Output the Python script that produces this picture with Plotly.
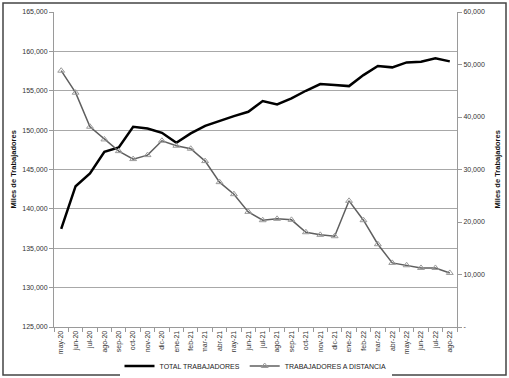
import plotly.graph_objects as go

months = ["may-20","jun-20","jul-20","ago-20","sep-20","oct-20","nov-20","dic-20",
          "ene-21","feb-21","mar-21","abr-21","may-21","jun-21","jul-21","ago-21",
          "sep-21","oct-21","nov-21","dic-21","ene-22","feb-22","mar-22","abr-22",
          "may-22","jun-22","jul-22","ago-22"]
total = [137460, 142880, 144500, 147250, 147800, 150420, 150200, 149660,
         148390, 149580, 150550, 151190, 151780, 152330, 153690, 153260,
         154030, 155000, 155850, 155720, 155590, 156990, 158140, 157970,
         158600, 158690, 159110, 158730]
distancia = [48820, 44630, 38140, 35730, 33500, 31980, 32740, 35470,
             34520, 33950, 31600, 27590, 25300, 21930, 20340, 20600,
             20410, 18050, 17550, 17290, 24030, 20340, 15770, 12210,
             11760, 11250, 11250, 10300]
left_ticks = [125000, 130000, 135000, 140000, 145000, 150000, 155000, 160000, 165000]
right_ticks = [0, 10000, 20000, 30000, 40000, 50000, 60000]
right_labels = ["-", "10,000", "20,000", "30,000", "40,000", "50,000", "60,000"]

FONT = "Liberation Sans"
L, R, T, B = 54, 52, 12, 51
PW, PH = 509 - L - R, 378 - T - B

def px(x):
    return (x - L) / PW

def py(y):
    return (378 - B - y) / PH

fig = go.Figure()
fig.add_trace(go.Scatter(x=months, y=total, name="TOTAL TRABAJADORES", mode="lines",
                         line=dict(color="#000000", width=2.5)))
fig.add_trace(go.Scatter(x=months, y=distancia, name="TRABAJADORES A DISTANCIA",
                         mode="lines+markers", yaxis="y2",
                         line=dict(color="#5f5f5f", width=1.5),
                         marker=dict(symbol="triangle-up-open", size=6, color="#9a9a9a",
                                     line=dict(width=1))))

title_font = dict(family=FONT, size=7.5, color="#111111")
tick_font = dict(family=FONT, size=7, color="#333333")
fig.update_layout(
    width=509, height=378,
    margin=dict(l=L, r=R, t=T, b=B, autoexpand=False),
    paper_bgcolor="white", plot_bgcolor="white",
    font=dict(family=FONT, size=7, color="#333333"),
    showlegend=True,
    legend=dict(orientation="h", x=0.5, xanchor="center", y=py(366), yanchor="middle",
                font=dict(size=7, color="#222222"), itemwidth=30),
    xaxis=dict(type="category", tickangle=-90, showgrid=False, showline=True,
               linecolor="#9a9a9a", ticks="outside", tickson="boundaries",
               ticklen=4, tickcolor="#9a9a9a", tickfont=tick_font,
               range=[-0.5, 27.5], automargin=False),
    yaxis=dict(range=[125000, 165000], tickvals=left_ticks, tickformat=",",
               showgrid=True, gridcolor="#a8a8a8", gridwidth=1, showline=True,
               linecolor="#9a9a9a", ticks="outside", ticklen=4, tickcolor="#9a9a9a",
               tickfont=tick_font, zeroline=False, automargin=False),
    yaxis2=dict(range=[0, 60000], tickvals=right_ticks, ticktext=right_labels,
                overlaying="y", side="right", showgrid=False, showline=True,
                linecolor="#9a9a9a", ticks="outside", ticklen=4, tickcolor="#9a9a9a",
                tickfont=tick_font, zeroline=False, automargin=False),
    annotations=[
        dict(text="<b>Miles de Trabajadores</b>", xref="paper", yref="paper",
             x=px(13), y=0.5, textangle=-90, showarrow=False, font=title_font,
             xanchor="center", yanchor="middle"),
        dict(text="<b>Miles de Trabajadores</b>", xref="paper", yref="paper",
             x=px(497), y=0.5, textangle=-90, showarrow=False, font=title_font,
             xanchor="center", yanchor="middle"),
    ],
    shapes=[dict(type="rect", xref="paper", yref="paper",
                 x0=px(3), x1=px(506), y0=py(375), y1=py(3),
                 line=dict(color="#444444", width=1.5), fillcolor="rgba(0,0,0,0)")],
)
fig.write_html("out.html", config={"displayModeBar": False},
               post_script="document.body.style.margin='0';document.body.style.overflow='hidden';")
